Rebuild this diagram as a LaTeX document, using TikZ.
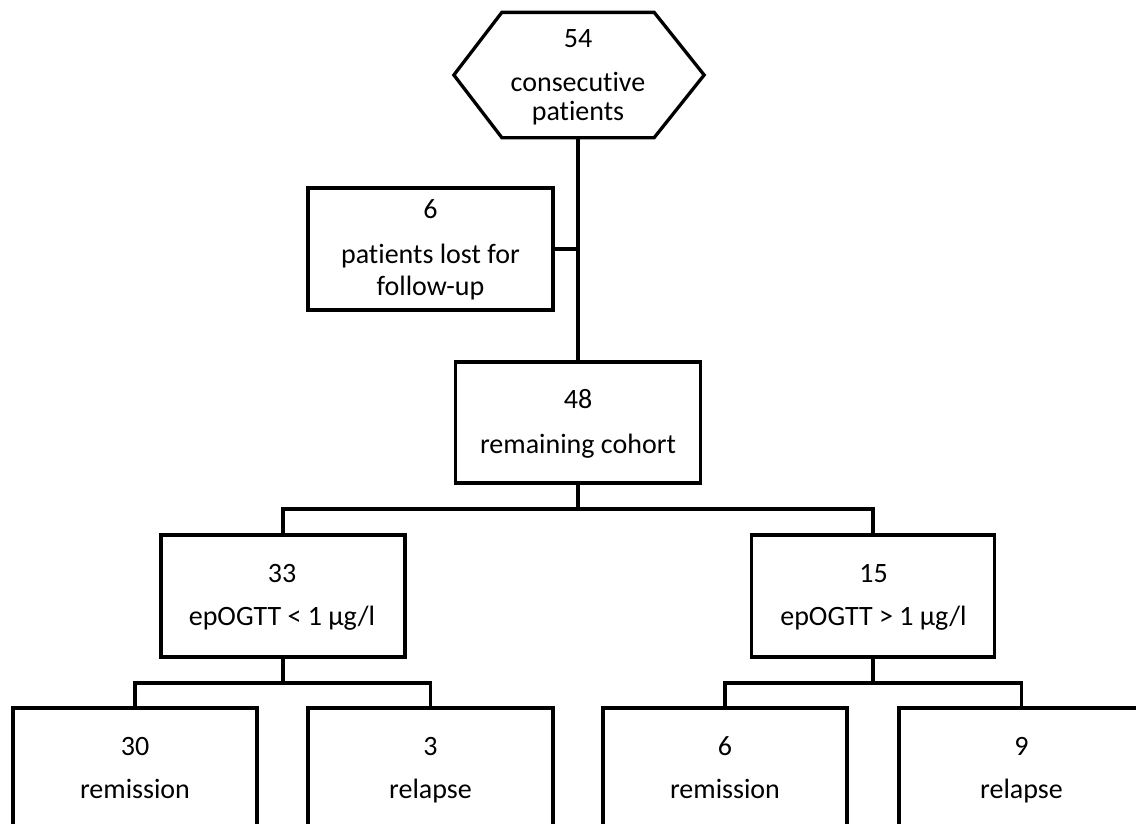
\documentclass[tikz,border=0pt]{standalone}
\usepackage{fontspec}
\setmainfont{Carlito}[Ligatures={NoCommon}]
\begin{document}
\begin{tikzpicture}[x=1pt,y=-1pt,line width=3.3pt,
  box/.style={draw, rectangle, minimum width=245pt, inner sep=0pt},
  txt/.style={anchor=base, inner sep=0pt, font=\fontsize{28}{34}\selectfont}]
\useasboundingbox (0,0) rectangle (1136,823);
\clip (0,0) rectangle (1136,823);
\fill[white] (0,0) rectangle (1136,823);
% boxes
\node[rectangle, minimum width=149pt, minimum height=122pt, inner sep=0pt] (hex) at (578,75) {};
\draw (hex.north west) -- (hex.north east) -- ([xshift=50pt]hex.east) -- (hex.south east) -- (hex.south west) -- ([xshift=-48pt]hex.west) -- cycle;
\node[box, minimum height=122pt] (lost) at (430.5,249) {};
\node[box, minimum height=121pt] (rem) at (578,422.5) {};
\node[box, minimum width=244pt, minimum height=122pt] (b33) at (283,596) {};
\node[box, minimum width=243pt, minimum height=122pt] (b15) at (873,596) {};
\node[box, minimum width=244pt, minimum height=250pt] (r1) at (135,833) {};
\node[box, minimum width=245pt, minimum height=250pt] (r2) at (430.5,833) {};
\node[box, minimum width=244pt, minimum height=250pt] (r3) at (725,833) {};
\node[box, minimum width=245pt, minimum height=250pt] (r4) at (1021.5,833) {};
% connectors
\draw (hex.south) -- (rem.north);
\draw (lost.east) -- (lost.east -| rem.north);
\coordinate (j1) at (578,509);
\draw (rem.south) -- (j1);
\draw (b33.north) |- (j1) -| (b15.north);
\coordinate (j2) at (283,683);
\draw (b33.south) -- (j2);
\draw (r1.north) |- (j2) -| (r2.north);
\coordinate (j3) at (873,683);
\draw (b15.south) -- (j3);
\draw (r3.north) |- (j3) -| (r4.north);
% texts
\node[txt] (t1) at (578,47) {54};
\node[txt] (t2) at (578,91) {consecutive};
\node[txt] (t3) at (578,120) {patients};
\node[txt] (t4) at (430.5,218) {6};
\node[txt] (t5) at (430.5,263) {patients lost for};
\node[txt] (t6) at (430.5,295) {follow-up};
\node[txt] (t7) at (578,408) {48};
\node[txt] (t8) at (578,453) {remaining cohort};
\node[txt] (t9) at (282,582) {33};
\node[txt] (t10) at (282,625) {epOGTT < 1 µg/l};
\node[txt] (t11) at (873.5,582) {15};
\node[txt] (t12) at (873.5,625) {epOGTT > 1 µg/l};
\node[txt] (t13) at (135,755) {30};
\node[txt] (t14) at (135,798) {remission};
\node[txt] (t15) at (430.5,755) {3};
\node[txt] (t16) at (430.5,798) {relapse};
\node[txt] (t17) at (725,755) {6};
\node[txt] (t18) at (725,798) {remission};
\node[txt] (t19) at (1021.5,755) {9};
\node[txt] (t20) at (1021.5,798) {relapse};
\end{tikzpicture}
\end{document}
